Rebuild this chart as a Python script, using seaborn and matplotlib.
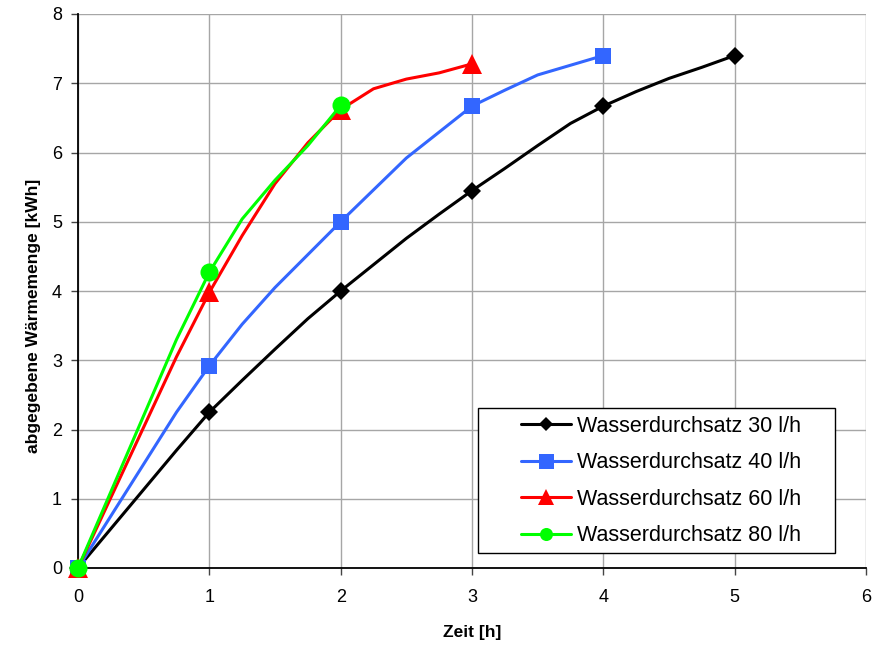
import matplotlib
matplotlib.use("Agg")
import matplotlib.pyplot as plt
from matplotlib.lines import Line2D
from matplotlib.patches import Rectangle
import seaborn as sns
import pandas as pd

# ---- data ----
hours_30 = [0, 0.75, 1, 1.25, 1.5, 1.75, 2, 2.25, 2.5, 2.75, 3, 3.25, 3.5, 3.75, 4, 4.25, 4.5, 4.75, 5]
heat_30 = [0, 1.70, 2.25, 2.71, 3.16, 3.60, 4.00, 4.38, 4.76, 5.11, 5.45, 5.77, 6.10, 6.42, 6.67, 6.88, 7.07, 7.23, 7.40]

hours_40 = [0, 0.75, 1, 1.25, 1.5, 2, 2.5, 3, 3.25, 3.5, 4]
heat_40 = [0, 2.25, 2.92, 3.52, 4.05, 5.00, 5.92, 6.67, 6.90, 7.12, 7.40]

hours_60 = [0, 0.75, 1, 1.25, 1.5, 1.75, 2, 2.25, 2.5, 2.75, 3]
heat_60 = [0, 3.05, 3.98, 4.80, 5.55, 6.14, 6.62, 6.92, 7.06, 7.15, 7.28]

hours_80 = [0, 0.75, 1, 1.25, 1.5, 1.75, 2]
heat_80 = [0, 3.30, 4.27, 5.04, 5.60, 6.10, 6.68]

series_labels = ["Wasserdurchsatz 30 l/h", "Wasserdurchsatz 40 l/h",
                 "Wasserdurchsatz 60 l/h", "Wasserdurchsatz 80 l/h"]
x_ticks = [0, 1, 2, 3, 4, 5, 6]
y_ticks = [0, 1, 2, 3, 4, 5, 6, 7, 8]
x_label = "Zeit [h]"
y_label = "abgegebene Wärmemenge [kWh]"

# ---- styles ----
colors = ["#000000", "#3366FF", "#FF0000", "#00FF00"]
markers = ["D", "s", "^", "o"]
msizes = [9.5, 12, 14, 13]
leg_msizes = [6.8, 10.8, 12, 9.4]

sns.set_style("white")
plt.rcParams["font.family"] = ["Liberation Sans", "DejaVu Sans"]
plt.rcParams["text.color"] = "black"
plt.rcParams["axes.labelcolor"] = "black"
plt.rcParams["xtick.color"] = "black"
plt.rcParams["ytick.color"] = "black"

W, H = 875, 646
fig = plt.figure(figsize=(W / 100, H / 100), dpi=100)
ax = fig.add_axes([78 / W, 1 - 568 / H, 788 / W, 554 / H])

all_series = [(hours_30, heat_30), (hours_40, heat_40), (hours_60, heat_60), (hours_80, heat_80)]
handles = []
for (hx, hy), lab, c, m, ms, lms in zip(all_series, series_labels, colors, markers, msizes, leg_msizes):
    df = pd.DataFrame({"h": hx, "q": hy})
    marks = [i for i, v in enumerate(hx) if float(v).is_integer()]
    sns.lineplot(data=df, x="h", y="q", ax=ax, color=c, linewidth=2.2,
                 marker=m, markersize=ms, markevery=marks,
                 markeredgecolor=c, markerfacecolor=c, markeredgewidth=0,
                 sort=False, estimator=None, clip_on=False, zorder=3)
    handles.append(Line2D([0], [0], color=c, lw=2.2, marker=m,
                          markersize=lms, markeredgewidth=0,
                          markerfacecolor=c))

ax.set_xlim(0, 6)
ax.set_ylim(0, 8)
ax.set_xticks(x_ticks)
ax.set_yticks(y_ticks)
ax.set_xticklabels([str(t) for t in x_ticks])
ax.set_yticklabels([str(t) for t in y_ticks])
ax.grid(True, color="#a6a6a6", linewidth=1.0)
ax.set_axisbelow(True)

for s in ["top", "right"]:
    ax.spines[s].set_visible(False)
for s in ["left", "bottom"]:
    ax.spines[s].set_color("#000000")
    ax.spines[s].set_linewidth(1.3)

ax.tick_params(axis="both", which="major", direction="out", length=5,
               width=1.0, color="#444444", labelsize=13,
               bottom=True, left=True)
ax.tick_params(axis="x", pad=10)
ax.tick_params(axis="y", pad=6.5)

ax.set_xlabel(x_label, fontsize=12.5, fontweight="bold")
ax.set_ylabel(y_label, fontsize=12.5, fontweight="bold")
ax.xaxis.set_label_coords(0.5, -(625 - 568) / 554)
ax.yaxis.set_label_coords((41 - 78) / 788, (568 - 316) / 554)

def ax_x(px):
    return (px - 78) / 788

def ax_y(py):
    return (568 - py) / 554

# legend frame (Excel style, generous horizontal padding)
frame = Rectangle((ax_x(478), ax_y(553)), ax_x(835) - ax_x(478), ax_y(408) - ax_y(553),
                  transform=ax.transAxes, facecolor="white", edgecolor="black",
                  linewidth=1.0, zorder=5, clip_on=False)
ax.add_patch(frame)

leg = ax.legend(handles, series_labels, loc="center",
                bbox_to_anchor=(ax_x(661), ax_y(481)),
                bbox_transform=ax.transAxes, borderaxespad=0, borderpad=0,
                frameon=False, fontsize=15.5, handlelength=2.33,
                handletextpad=0.28, labelspacing=0.72)
leg.set_zorder(6)

fig.savefig("out.png", dpi=100)
